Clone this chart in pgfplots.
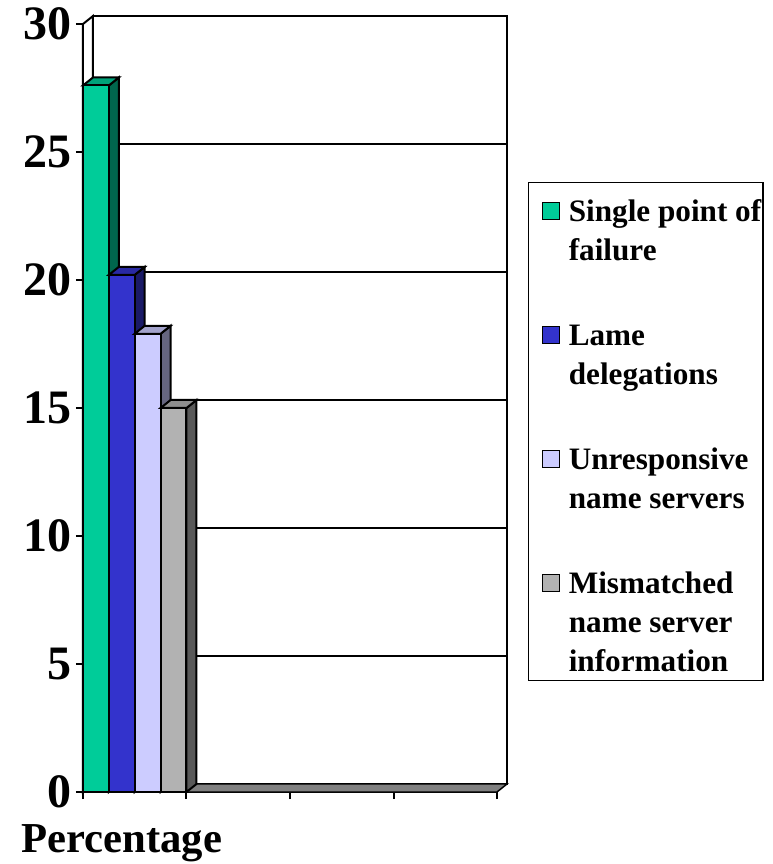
\documentclass[border=0pt]{standalone}
\usepackage{fontspec}
\setmainfont{Liberation Serif}
\usepackage{pgfplots}
\pgfplotsset{compat=1.18}
\definecolor{cgreen}{HTML}{00CC99}
\definecolor{cgreenS}{HTML}{00664D}
\definecolor{cgreenT}{HTML}{00A37A}
\definecolor{cblue}{HTML}{3333CC}
\definecolor{cblueS}{HTML}{1A1A66}
\definecolor{cblueT}{HTML}{2929A3}
\definecolor{clight}{HTML}{CCCCFF}
\definecolor{clightS}{HTML}{666680}
\definecolor{clightT}{HTML}{A3A3CC}
\definecolor{cgray}{HTML}{B2B2B2}
\definecolor{cgrayS}{HTML}{595959}
\definecolor{cgrayT}{HTML}{8E8E8E}
\newcommand{\tp}{\rule{0pt}{22.25pt}}
\newcommand{\bt}{\rule[-7.75pt]{0pt}{0pt}}
\pgfplotsset{
  lgsq/.style={legend image code/.code={\path (0pt,0pt); \draw[line width=1.1pt,draw=black,fill=#1] (8.5pt,1.5pt) rectangle (21.5pt,14.5pt);}},
}
\begin{document}
\begin{tikzpicture}[x=1pt,y=1pt]
\useasboundingbox (-62.25,-54) rectangle (516.75,594);
\begin{axis}[
  anchor=south west,
  scale only axis,width=310.5pt,height=576pt,
  xmin=0,xmax=4,ymin=0,ymax=30,
  clip=false,
  axis x line*=bottom,axis y line*=left,
  axis line style={-,line width=1.5pt},
  tick style={black,line width=1.5pt},
  major tick length=5.25pt,
  tick align=outside,
  xtick={0,1,2,3,4},xticklabels={},
  ytick={0,5,10,15,20,25,30},
  /pgf/number format/assume math mode=true,
  tick label style={font=\fontsize{36}{36}\selectfont\bfseries},
  yticklabel style={inner sep=0pt,xshift=-3.2pt},
  xlabel={\fontsize{32}{32}\selectfont\bfseries Percentage},
  xlabel style={at={(axis description cs:0.094,0)},anchor=base,yshift=-45pt,inner sep=0pt},
  legend style={at={(1.0749,0.7943)},anchor=north west,draw=black,line width=1.1pt,
    inner xsep=1pt,inner ysep=7pt,row sep=34pt,column sep=6.25pt,
    font=\fontsize{23.4}{29}\selectfont\bfseries,
    nodes={inner sep=0pt,text depth={}},
    cells={anchor=base west}},
  legend plot pos=left,
]
% walls
\addplot[fill=white,draw=black,line width=1.5pt,forget plot] coordinates {(0,0)(0,30)(0.0966,30.3125)(0.0966,0.3125)} --cycle;
\addplot[fill=white,draw=black,line width=1.5pt,forget plot] coordinates {(0.0966,0.3125)(0.0966,30.3125)(4.0966,30.3125)(4.0966,0.3125)} --cycle;
% grid on back wall
\addplot[black,line width=1.5pt,forget plot] coordinates {(0.0966,5.3125)(4.0966,5.3125)};
\addplot[black,line width=1.5pt,forget plot] coordinates {(0.0966,10.3125)(4.0966,10.3125)};
\addplot[black,line width=1.5pt,forget plot] coordinates {(0.0966,15.3125)(4.0966,15.3125)};
\addplot[black,line width=1.5pt,forget plot] coordinates {(0.0966,20.3125)(4.0966,20.3125)};
\addplot[black,line width=1.5pt,forget plot] coordinates {(0.0966,25.3125)(4.0966,25.3125)};
% floor
\addplot[fill=gray!100,draw=black,line width=1.1pt,forget plot] coordinates {(0,0)(0.0966,0.3125)(4.0966,0.3125)(4,0)} --cycle;
% bar 1
\addplot[fill=cgreenS,draw=black,line width=1.5pt,forget plot] coordinates {(0.25,0)(0.3466,0.3125)(0.3466,27.9125)(0.25,27.6)} --cycle;
\addplot[fill=cgreenT,draw=black,line width=1.5pt,forget plot] coordinates {(0,27.6)(0.0966,27.9125)(0.3466,27.9125)(0.25,27.6)} --cycle;
\addplot[ybar,bar width=0.25,bar shift=0pt,fill=cgreen,draw=black,line width=1.5pt,lgsq=cgreen] coordinates {(0.125,27.6)};
\addlegendentry{\parbox[t]{144.5pt}{\raggedright\tp\mbox{Single point of}\\ failure\bt}}
% bar 2
\addplot[fill=cblueS,draw=black,line width=1.5pt,forget plot] coordinates {(0.5,0)(0.5966,0.3125)(0.5966,20.5125)(0.5,20.2)} --cycle;
\addplot[fill=cblueT,draw=black,line width=1.5pt,forget plot] coordinates {(0.25,20.2)(0.3466,20.5125)(0.5966,20.5125)(0.5,20.2)} --cycle;
\addplot[ybar,bar width=0.25,bar shift=0pt,fill=cblue,draw=black,line width=1.5pt,lgsq=cblue] coordinates {(0.375,20.2)};
\addlegendentry{\parbox[t]{144.5pt}{\raggedright\tp Lame\\ delegations\bt}}
% bar 3
\addplot[fill=clightS,draw=black,line width=1.5pt,forget plot] coordinates {(0.75,0)(0.8466,0.3125)(0.8466,18.2125)(0.75,17.9)} --cycle;
\addplot[fill=clightT,draw=black,line width=1.5pt,forget plot] coordinates {(0.5,17.9)(0.5966,18.2125)(0.8466,18.2125)(0.75,17.9)} --cycle;
\addplot[ybar,bar width=0.25,bar shift=0pt,fill=clight,draw=black,line width=1.5pt,lgsq=clight] coordinates {(0.625,17.9)};
\addlegendentry{\parbox[t]{144.5pt}{\raggedright\tp Unresponsive\\ name servers\bt}}
% bar 4
\addplot[fill=cgrayS,draw=black,line width=1.5pt,forget plot] coordinates {(1,0)(1.0966,0.3125)(1.0966,15.3125)(1,15)} --cycle;
\addplot[fill=cgrayT,draw=black,line width=1.5pt,forget plot] coordinates {(0.75,15)(0.8466,15.3125)(1.0966,15.3125)(1,15)} --cycle;
\addplot[ybar,bar width=0.25,bar shift=0pt,fill=cgray,draw=black,line width=1.5pt,lgsq=cgray] coordinates {(0.875,15)};
\addlegendentry{\parbox[t]{144.5pt}{\raggedright\tp Mismatched\\ name server\\ information}}
\end{axis}
\end{tikzpicture}
\end{document}
